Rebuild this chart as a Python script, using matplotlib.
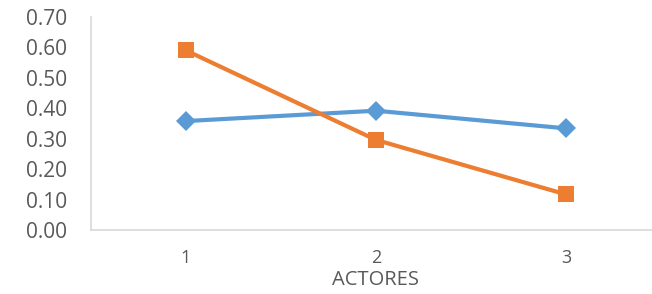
import matplotlib

matplotlib.use("Agg")

import matplotlib.pyplot as plt

categories = ["1", "2", "3"]
series_blue = [0.358, 0.392, 0.334]
series_orange = [0.590, 0.296, 0.117]
y_ticks = [0.0, 0.1, 0.2, 0.3, 0.4, 0.5, 0.6, 0.7]

BLUE = "#5b9bd5"
ORANGE = "#ed7d31"
GRAY = "#595959"

plt.rcParams["font.family"] = ["Open Sans", "DejaVu Sans"]

fig = plt.figure(figsize=(6.52, 2.94), dpi=100)
ax = fig.add_axes([91 / 652, 64 / 294, 570 / 652, 213 / 294])

x = range(1, len(categories) + 1)
ax.plot(x, series_blue, color=BLUE, linewidth=3, marker="D", markersize=10,
        markeredgewidth=0, solid_capstyle="round")
ax.plot(x, series_orange, color=ORANGE, linewidth=3, marker="s", markersize=12,
        markeredgewidth=0, solid_capstyle="round")

ax.set_xlim(0.5, 3.5)
ax.set_ylim(0, 0.7)
ax.set_xticks(list(x))
ax.set_xticklabels(categories)
ax.set_yticks(y_ticks)
ax.set_yticklabels([f"{v:.2f}" for v in y_ticks])

for side in ["top", "right"]:
    ax.spines[side].set_visible(False)
for side in ["left", "bottom"]:
    ax.spines[side].set_color("#d9d9d9")
    ax.spines[side].set_linewidth(1.2)

ax.tick_params(axis="both", length=0, colors=GRAY)
ax.tick_params(axis="y", labelsize=15, pad=17)
ax.tick_params(axis="x", labelsize=13, pad=14)
ax.set_xlabel("ACTORES", fontsize=14.5, color=GRAY, labelpad=2)

fig.savefig("out.png", dpi=100)
